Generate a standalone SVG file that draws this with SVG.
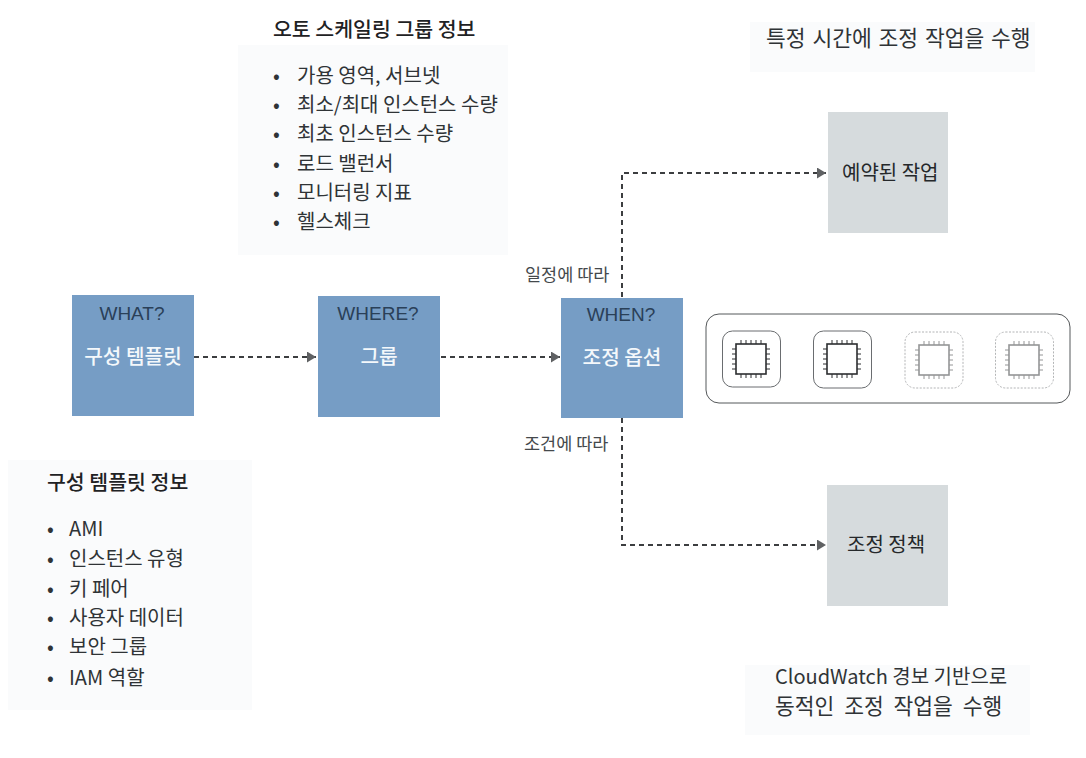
<svg xmlns="http://www.w3.org/2000/svg" width="1086" height="758" viewBox="0 0 1086 758">
<style>
text{font-family:"Noto Sans CJK KR","Liberation Sans",sans-serif;fill:#2f3336}
.t{font-size:20px}
.tr{font-size:21.500px;word-spacing:2px}
.tb{font-size:21.500px;word-spacing:5px}
.h{font-size:20.500px;font-weight:500;fill:#1f2224}
.l{font-size:17.500px;fill:#45494c}
.q{font-family:"Liberation Sans","Noto Sans CJK KR",sans-serif;font-size:19px;fill:#2a4058;text-anchor:middle}
.w{font-size:20.200px;font-weight:500;fill:#f4f8fb;text-anchor:middle}
.g{font-size:20px;fill:#25282a}
.blue{fill:#769dc5}
.gray{fill:#d6dbdd}
.panel{fill:#fafbfc}
.c{fill:none;stroke:#3c3e40;stroke-width:2;stroke-dasharray:5 4}
.ic{fill:#fff;stroke:#6a6d70;stroke-width:1}
.dim{opacity:.5}
.dim .ic{stroke-dasharray:2 1.500}
</style>
<defs>
<marker id="a" markerWidth="9" markerHeight="11" refX="9" refY="5.500" orient="auto" markerUnits="userSpaceOnUse"><path d="M0 0L9 5.500L0 11Z" fill="#5f6163"/></marker>
<g id="chip" fill="none" stroke="#2c2e30">
<rect x="-15" y="-15" width="30" height="30" stroke-width="1.600"/>
<path stroke-width="1" d="M-10-19v4M-5-19v4M0-19v4M5-19v4M10-19v4M-10 15v4M-5 15v4M0 15v4M5 15v4M10 15v4M-19-10h4M-19-5h4M-19 0h4M-19 5h4M-19 10h4M15-10h4M15-5h4M15 0h4M15 5h4M15 10h4"/>
</g>
</defs>
<rect width="1086" height="758" fill="#fff"/>
<rect class="panel" x="238" y="45" width="270" height="210"/>
<rect class="panel" x="8" y="460" width="244" height="250"/>
<rect class="panel" x="750" y="22" width="285" height="50"/>
<rect class="panel" x="745" y="665" width="285" height="70"/>
<g id="connectors">
<path class="c" d="M194 357H316" marker-end="url(#a)"/>
<path class="c" d="M441 357H560" marker-end="url(#a)"/>
<path class="c" d="M622 297V173H826" marker-end="url(#a)"/>
<path class="c" d="M622 418V545H826" marker-end="url(#a)"/>
</g>
<g id="node-what"><rect class="blue" x="72" y="295" width="122" height="121"/><text class="q" x="132" y="320">WHAT?</text><text class="w" x="133" y="364">구성 템플릿</text></g>
<g id="node-where"><rect class="blue" x="318" y="296" width="122" height="121"/><text class="q" x="378" y="320">WHERE?</text><text class="w" x="379" y="364">그룹</text></g>
<g id="node-when"><rect class="blue" x="561" y="298" width="122" height="120"/><text class="q" x="621" y="321">WHEN?</text><text class="w" x="622" y="365">조정 옵션</text></g>
<g id="node-scheduled"><rect class="gray" x="828" y="112" width="120" height="121"/><text class="g" x="842" y="180">예약된 작업</text></g>
<g id="node-policy"><rect class="gray" x="827" y="485" width="121" height="121"/><text class="g" x="847" y="552">조정 정책</text></g>
<g id="node-group">
<rect x="706" y="314" width="364" height="89" rx="13" fill="#fff" stroke="#55585a" stroke-width="1"/>
<g><rect class="ic" x="722.500" y="331" width="58" height="56" rx="10"/><use href="#chip" x="751" y="359"/></g>
<g><rect class="ic" x="813.500" y="331" width="58" height="57" rx="10"/><use href="#chip" x="842" y="359"/></g>
<g class="dim"><rect class="ic" x="905" y="332" width="58" height="56" rx="10"/><use href="#chip" x="934" y="360"/></g>
<g class="dim"><rect class="ic" x="995.500" y="332" width="58" height="56" rx="10"/><use href="#chip" x="1024" y="360"/></g>
</g>
<text class="l" x="525" y="281">일정에 따라</text>
<text class="l" x="524" y="450">조건에 따라</text>
<g id="info-group">
<text class="h" x="273" y="37">오토 스케일링 그룹 정보</text>
<g class="t">
<text x="273" y="83">•</text><text x="297" y="83">가용 영역, 서브넷</text>
<text x="273" y="112">•</text><text x="297" y="112">최소/최대 인스턴스 수량</text>
<text x="273" y="141">•</text><text x="297" y="141">최초 인스턴스 수량</text>
<text x="273" y="171">•</text><text x="297" y="171">로드 밸런서</text>
<text x="273" y="200">•</text><text x="297" y="200">모니터링 지표</text>
<text x="273" y="229">•</text><text x="297" y="229">헬스체크</text>
</g>
</g>
<g id="info-template">
<text class="h" x="47" y="490">구성 템플릿 정보</text>
<g class="t">
<text x="47" y="536">•</text><text x="69" y="536">AMI</text>
<text x="47" y="566">•</text><text x="69" y="566">인스턴스 유형</text>
<text x="47" y="596">•</text><text x="69" y="596">키 페어</text>
<text x="47" y="625">•</text><text x="69" y="625">사용자 데이터</text>
<text x="47" y="654">•</text><text x="69" y="654">보안 그룹</text>
<text x="47" y="685">•</text><text x="69" y="685">IAM 역할</text>
</g>
</g>
<text class="tr" x="766" y="46">특정 시간에 조정 작업을 수행</text>
<text class="t" x="775" y="684">CloudWatch 경보 기반으로</text>
<text class="tb" x="775" y="714">동적인 조정 작업을 수행</text>
</svg>
